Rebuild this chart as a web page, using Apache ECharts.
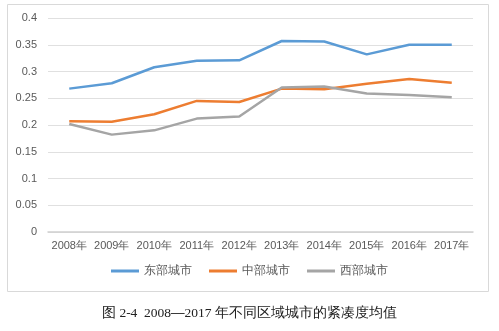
<!DOCTYPE html>
<html><head><meta charset="utf-8">
<script src="https://cdn.jsdelivr.net/npm/echarts@6/dist/echarts.min.js"></script>
<style>html,body{margin:0;padding:0;background:#fff}#c{width:499px;height:331px}</style>
</head><body><div id="c"></div>
<script>
const categories = ['2008年','2009年','2010年','2011年','2012年','2013年','2014年','2015年','2016年','2017年'];
const east = [0.268,0.278,0.308,0.320,0.321,0.357,0.356,0.332,0.350,0.350];
const central = [0.207,0.206,0.220,0.245,0.243,0.268,0.267,0.277,0.286,0.279];
const west = [0.202,0.182,0.190,0.212,0.216,0.270,0.272,0.259,0.256,0.252];
const seriesNames = ['东部城市','中部城市','西部城市'];
const colors = ['#5B9BD5','#ED7D31','#A5A5A5'];
const captionA = '图 2-4  2008';
const captionDash = '—';
const captionB = '2017 年不同区域城市的紧凑度均值';

const chart = echarts.init(document.getElementById('c'), null, {renderer:'canvas'});
const font = 'Liberation Sans, Arial, sans-serif';
const capFont = '"Liberation Serif", "DejaVu Serif", serif';
chart.setOption({
  animation:false,
  color: colors,
  graphic:[
    {type:'rect', shape:{x:7.5,y:4.5,width:481,height:287}, style:{fill:'none', stroke:'#D9D9D9', lineWidth:1}, z:-1},
    {type:'text', left:'center', top:306, style:{
      text:'{a|'+captionA+'}{d|'+captionDash+'}{a|'+captionB+'}',
      rich:{
        a:{fontSize:13.5, fontFamily:capFont, fill:'#222', color:'#222'},
        d:{fontSize:13.5, fontFamily:capFont, fontWeight:'bold', color:'#222', fill:'#222'}
      }}}
  ],
  grid:{left:48, right:26, top:18, bottom:99, containLabel:false},
  legend:{bottom:49, left:'center', itemWidth:28, itemHeight:3, itemGap:17, icon:'rect',
    textStyle:{color:'#595959', fontSize:12, fontFamily:font}, data:seriesNames},
  xAxis:{type:'category', data:categories, boundaryGap:true,
    axisLine:{lineStyle:{color:'#D0D0D0', width:1.5}}, axisTick:{show:false},
    axisLabel:{color:'#595959', fontSize:11, fontFamily:font, margin:8, interval:0}},
  yAxis:{type:'value', min:0, max:0.4, interval:0.05,
    axisLine:{show:false}, axisTick:{show:false},
    splitLine:{lineStyle:{color:'#E0E0E0', width:1}},
    axisLabel:{color:'#595959', fontSize:11, fontFamily:font, margin:11}},
  series:[
    {name:seriesNames[0], type:'line', data:east, symbol:'none', lineStyle:{width:2.5}},
    {name:seriesNames[1], type:'line', data:central, symbol:'none', lineStyle:{width:2.5}},
    {name:seriesNames[2], type:'line', data:west, symbol:'none', lineStyle:{width:2.5}}
  ]
});
</script></body></html>
